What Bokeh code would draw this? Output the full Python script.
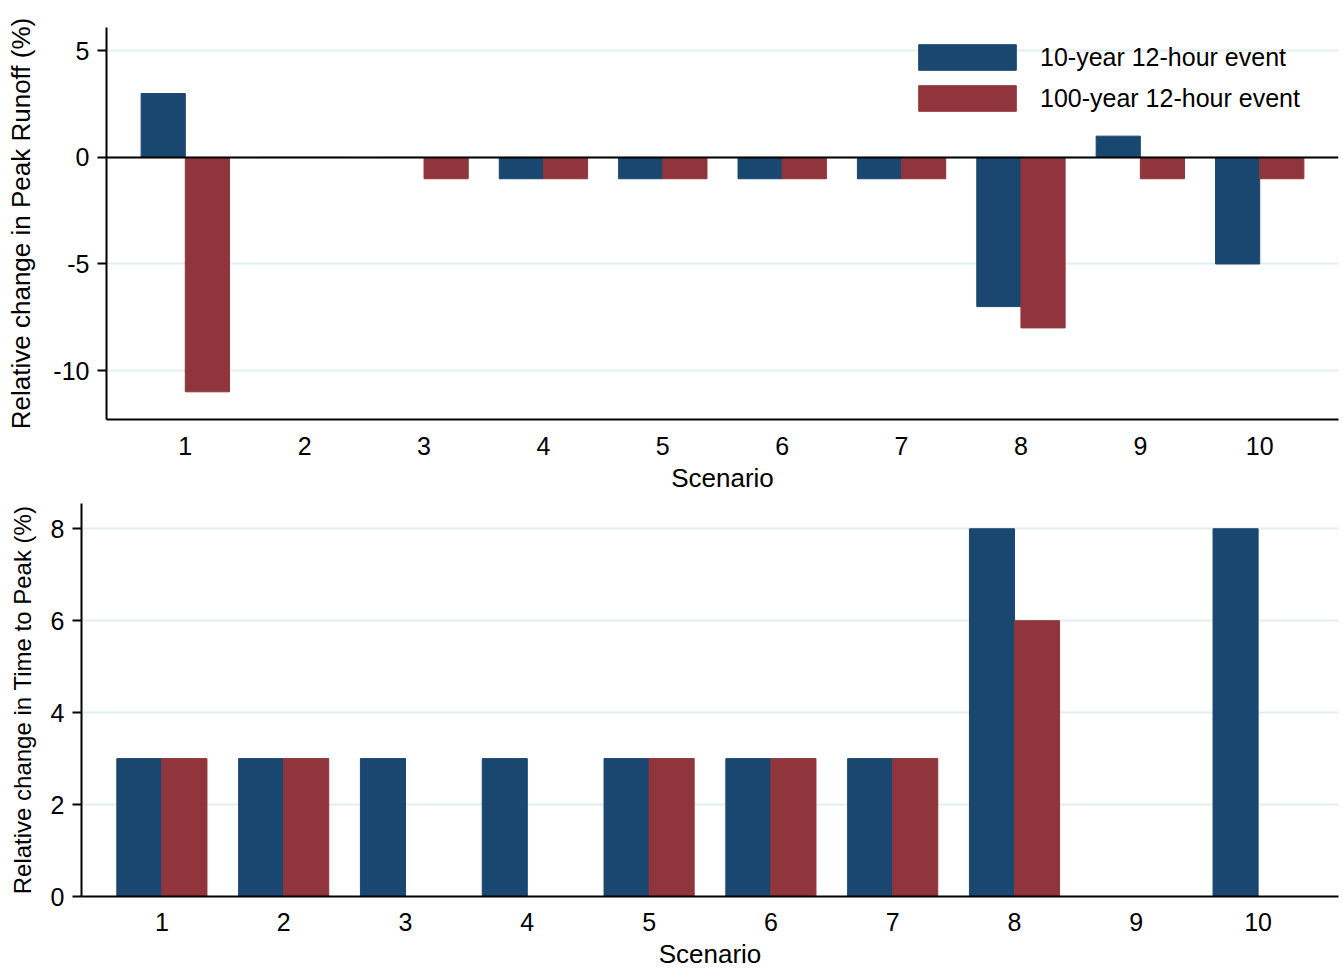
from bokeh.plotting import figure
from bokeh.models import ColumnDataSource, FixedTicker, Span, Legend, LegendItem, Range1d
from bokeh.layouts import column
from bokeh.transform import dodge
from bokeh.embed import file_html
from bokeh.resources import INLINE

scenarios = [1, 2, 3, 4, 5, 6, 7, 8, 9, 10]
series_names = ["10-year 12-hour event", "100-year 12-hour event"]

peak_10yr = [3, 0, 0, -1, -1, -1, -1, -7, 1, -5]
peak_100yr = [-11, 0, -1, -1, -1, -1, -1, -8, -1, -1]

ttp_10yr = [3, 3, 3, 3, 3, 3, 3, 8, 0, 8]
ttp_100yr = [3, 3, 0, 0, 3, 3, 3, 6, 0, 0]

top_ticks = [-10, -5, 0, 5]
bottom_ticks = [0, 2, 4, 6, 8]

BLUE = "#1a476f"
RED = "#90353b"
GRID = "#e4eef0"
FONT = "Liberation Sans"
FS = "25px"
TS = "26px"
W = 1343
BW = 0.37


def style(p, yticks):
    if hasattr(p, "frame_align"):
        p.frame_align = False
    p.outline_line_color = None
    p.background_fill_color = "white"
    p.border_fill_color = "white"
    p.xgrid.visible = False
    p.ygrid.ticker = FixedTicker(ticks=yticks)
    p.ygrid.grid_line_color = GRID
    p.ygrid.grid_line_width = 2
    p.xaxis.ticker = FixedTicker(ticks=scenarios)
    p.yaxis.ticker = FixedTicker(ticks=yticks)
    p.yaxis.major_label_overrides = {t: str(t) for t in yticks}
    for ax in (p.xaxis, p.yaxis):
        ax.axis_line_color = "black"
        ax.axis_line_width = 2
        ax.major_label_text_font = FONT
        ax.major_label_text_font_size = FS
        ax.major_label_text_color = "black"
        ax.axis_label_text_font = FONT
        ax.axis_label_text_font_size = TS
        ax.axis_label_text_font_style = "normal"
        ax.axis_label_text_color = "black"
        ax.minor_tick_line_color = None
    p.xaxis.major_tick_line_color = None
    p.xaxis.major_tick_out = 0
    p.xaxis.major_tick_in = 0
    p.yaxis.major_tick_in = 0
    p.yaxis.major_tick_out = 9
    p.yaxis.major_tick_line_width = 2
    p.yaxis.major_tick_line_color = "black"
    p.yaxis.major_label_standoff = 8
    p.yaxis.major_label_orientation = "horizontal"
    p.xaxis.axis_label = "Scenario"


# ---- top panel ----
src1 = ColumnDataSource(dict(x=scenarios, a=peak_10yr, b=peak_100yr))
p1 = figure(width=W, height=495, output_backend="svg", toolbar_location=None,
            x_range=Range1d(0.34, 10.66), y_range=Range1d(-12.3, 6.1),
            min_border_left=106, min_border_right=5, min_border_top=27, min_border_bottom=76)
r1a = p1.vbar(x=dodge("x", -BW / 2), top="a", bottom=0, width=BW, source=src1,
              fill_color=BLUE, line_color=BLUE)
r1b = p1.vbar(x=dodge("x", BW / 2), top="b", bottom=0, width=BW, source=src1,
              fill_color=RED, line_color=RED)
style(p1, top_ticks)
p1.xaxis.major_label_standoff = 17
p1.xaxis.axis_label_standoff = 5
p1.yaxis.axis_label = "Relative change in Peak Runoff (%)"
p1.yaxis.axis_label_standoff = 14
p1.add_layout(Span(location=0, dimension="width", line_color="black", line_width=2))

legend = Legend(items=[LegendItem(label=series_names[0], renderers=[r1a]),
                       LegendItem(label=series_names[1], renderers=[r1b])],
                location=(800, 305), orientation="vertical",
                glyph_width=122, glyph_height=32, label_height=26, spacing=9,
                label_standoff=12, padding=0, margin=0,
                label_text_font=FONT, label_text_font_size=FS, label_text_color="black",
                background_fill_alpha=0, border_line_color=None)
p1.add_layout(legend, "center")

# ---- bottom panel ----
src2 = ColumnDataSource(dict(x=scenarios, a=ttp_10yr, b=ttp_100yr))
p2 = figure(width=W, height=476, output_backend="svg", toolbar_location=None,
            x_range=Range1d(0.34, 10.66), y_range=Range1d(0, 8.55),
            min_border_left=81, min_border_right=5, min_border_top=8, min_border_bottom=75)
p2.vbar(x=dodge("x", -BW / 2), top="a", bottom=0, width=BW, source=src2,
        fill_color=BLUE, line_color=BLUE)
p2.vbar(x=dodge("x", BW / 2), top="b", bottom=0, width=BW, source=src2,
        fill_color=RED, line_color=RED)
style(p2, bottom_ticks)
p2.xaxis.major_label_standoff = 16
p2.xaxis.axis_label_standoff = 5
p2.yaxis.axis_label = "Relative change in Time to Peak (%)"
p2.yaxis.axis_label_text_font_size = "24px"
p2.yaxis.axis_label_standoff = 12

layout = column(p1, p2, spacing=0)
open("out.html", "w").write(file_html(layout, INLINE))
